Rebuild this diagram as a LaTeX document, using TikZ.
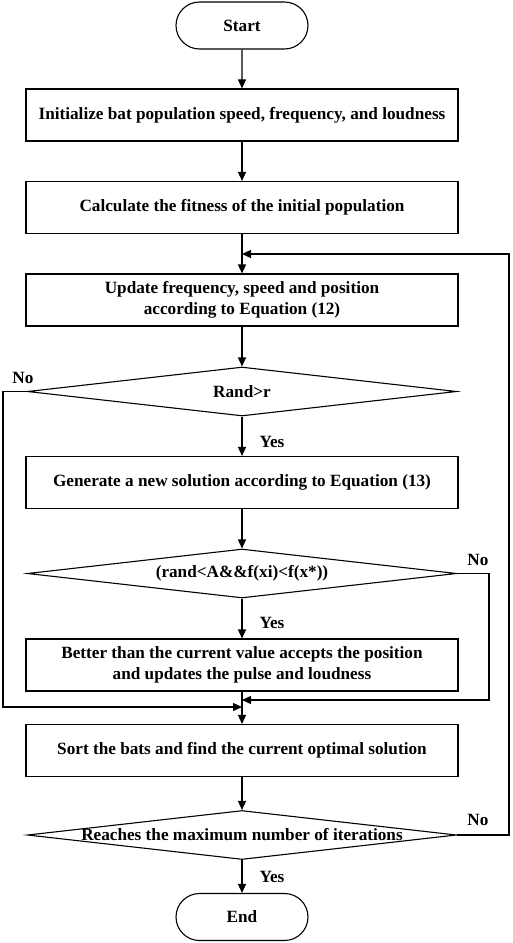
\documentclass[tikz,border=0pt]{standalone}
\usepackage{fontspec}
\setmainfont{Liberation Serif}
\usetikzlibrary{shapes.misc,shapes.geometric,arrows.meta}
\begin{document}
\begin{tikzpicture}[x=1pt,y=1pt,
  every node/.style={font=\fontsize{17.2}{21}\selectfont\bfseries},
  term/.style={rounded rectangle,draw,line width=1.1pt,minimum width=132pt,minimum height=47pt,inner sep=0pt},
  proc/.style={rectangle,draw,line width=1.1pt,minimum width=432pt,minimum height=52pt,inner sep=0pt,align=center},
  dec/.style={diamond,draw,line width=1.1pt,minimum width=429pt,minimum height=49pt,inner sep=0pt},
  lab/.style={inner sep=0pt},
  conn/.style={line width=1.3pt,-{Triangle[length=9pt,width=8pt]}}]
\useasboundingbox (0,0) rectangle (512,-943);
\node[term] (start) at (242,-25.5) {Start};
\node[proc] (b1) at (242,-115) {Initialize bat population speed, frequency, and loudness};
\node[proc] (b2) at (242,-207.5) {Calculate the fitness of the initial population};
\node[proc] (b3) at (242,-300) {Update frequency, speed and position\\according to Equation (12)};
\node[dec] (d1) at (242,-391.5) {\makebox[0pt]{Rand>r}};
\node[proc] (b4) at (242,-482.5) {Generate a new solution according to Equation (13)};
\node[dec] (d2) at (242,-573.5) {\makebox[0pt]{(rand<A\&\&f(xi)<f(x*))}};
\node[proc] (b5) at (242,-665) {Better than the current value accepts the position\\and updates the pulse and loudness};
\node[proc] (b6) at (242,-750.5) {Sort the bats and find the current optimal solution};
\node[dec] (d3) at (242,-835) {\makebox[0pt]{Reaches the maximum number of iterations}};
\node[term] (end) at (242,-917) {End};

\coordinate (j1) at (242,-254);
\coordinate (jl) at (242,-707);
\coordinate (jr) at (242,-700);
\coordinate (l1) at (3,-391.5);
\coordinate (l2) at (3,-707);
\coordinate (r1) at (489,-573.5);
\coordinate (r2) at (489,-700);
\coordinate (s1) at (509,-835);
\coordinate (s2) at (509,-254);

\draw[conn] (start) -- (b1);
\draw[conn] (b1) -- (b2);
\draw[conn] (b2) -- (b3);
\draw[conn] (b3) -- (d1);
\draw[conn] (d1) -- (b4);
\draw[conn] (b4) -- (d2);
\draw[conn] (d2) -- (b5);
\draw[conn] (b5) -- (b6);
\draw[conn] (b6) -- (d3);
\draw[conn] (d3) -- (end);

\draw[conn] (d1.west) -- (l1) -- (l2) -- (jl);
\draw[conn] (d2.east) -- (r1) -- (r2) -- (jr);
\draw[conn] (d3.east) -- (s1) -- (s2) -- (j1);

\node[lab] (n1) at (23,-378) {No};
\node[lab] (y1) at (272,-442) {Yes};
\node[lab] (n2) at (478,-560) {No};
\node[lab] (y2) at (272,-623) {Yes};
\node[lab] (n3) at (478,-820) {No};
\node[lab] (y3) at (272,-877) {Yes};
\end{tikzpicture}
\end{document}
